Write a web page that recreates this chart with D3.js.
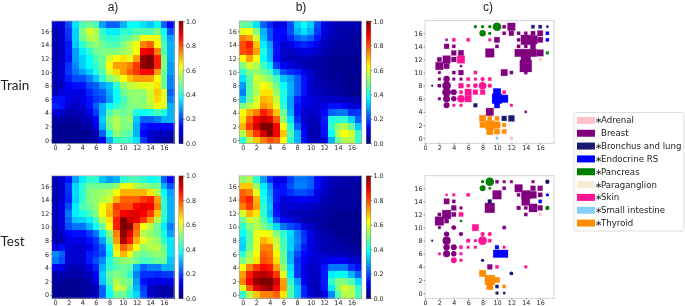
<!doctype html>
<html>
  <head>
    <meta charset="utf-8">
    <title>Heatmaps and markers</title>
    <script src="https://cdnjs.cloudflare.com/ajax/libs/d3/7.8.5/d3.min.js"></script>
    <style>
      html, body { margin: 0; padding: 0; background: #fff; overflow: hidden; }
      svg { display: block; filter: blur(0.45px); }
      .tick text { font-family: "DejaVu Sans"; font-size: 6.4px; fill: #262626; }
      .tick line { stroke: #444; stroke-width: 0.6; }
      .domain { display: none; }
      .panel-label { font-family: Lato; font-size: 13.5px; fill: #222; }
      .panel-title { font-family: "Liberation Sans"; font-size: 12px; fill: #222; }
    </style>
  </head>
  <body>
    <div id="chart"></div>

    <script>
      // rows run from y = 17 at the top down to y = 0
      const trainA = [
        [.08,.08,.2,.35,.45,.48,.45,.28,.22,.22,.3,.38,.38,.35,.32,.38,.22,.12],
        [.05,.08,.18,.33,.5,.58,.55,.42,.36,.36,.42,.42,.45,.45,.45,.5,.38,.2],
        [.05,.08,.17,.33,.48,.55,.55,.45,.42,.42,.45,.48,.52,.62,.62,.6,.42,.28],
        [.05,.08,.15,.32,.42,.48,.52,.48,.45,.45,.5,.55,.62,.75,.78,.63,.45,.3],
        [.05,.07,.15,.28,.36,.42,.48,.5,.5,.5,.52,.55,.62,.88,.9,.75,.45,.3],
        [.05,.07,.14,.28,.33,.38,.45,.48,.58,.62,.65,.6,.72,.98,1,.85,.5,.3],
        [.06,.08,.17,.26,.33,.38,.42,.48,.63,.72,.72,.75,.82,.98,1,.85,.5,.28],
        [.05,.09,.18,.24,.28,.33,.4,.46,.58,.66,.72,.78,.82,.87,.88,.72,.48,.28],
        [.05,.08,.15,.2,.2,.25,.32,.42,.5,.55,.62,.68,.72,.72,.72,.62,.48,.25],
        [.04,.06,.12,.14,.14,.2,.22,.28,.32,.42,.52,.56,.58,.6,.6,.65,.48,.25],
        [.06,.1,.1,.1,.1,.16,.2,.22,.3,.38,.48,.52,.52,.52,.58,.68,.6,.22],
        [.14,.14,.1,.08,.1,.14,.18,.2,.28,.38,.44,.5,.52,.5,.58,.66,.6,.25],
        [.16,.14,.08,.06,.09,.14,.22,.3,.38,.42,.46,.5,.5,.52,.55,.62,.6,.3],
        [.08,.08,.05,.05,.06,.1,.18,.3,.45,.5,.48,.5,.4,.38,.4,.44,.4,.3],
        [.04,.04,.03,.03,.05,.06,.13,.33,.5,.55,.5,.52,.32,.22,.22,.25,.3,.3],
        [.02,.02,.02,.02,.03,.04,.1,.3,.48,.55,.5,.5,.3,.15,.13,.13,.12,.12],
        [.02,.02,.02,.02,.02,.03,.05,.22,.4,.52,.48,.45,.3,.13,.08,.07,.06,.05],
        [.02,.02,.02,.02,.02,.03,.04,.12,.3,.42,.44,.42,.35,.18,.08,.05,.04,.03]
      ];
      const testA = [
        [.06,.08,.14,.28,.36,.42,.42,.32,.28,.3,.42,.45,.45,.42,.38,.4,.22,.12],
        [.05,.08,.18,.33,.42,.48,.48,.48,.48,.52,.6,.62,.55,.52,.5,.48,.3,.2],
        [.05,.08,.17,.34,.42,.5,.52,.52,.55,.62,.7,.7,.7,.7,.65,.55,.38,.28],
        [.05,.08,.16,.33,.42,.5,.52,.55,.58,.7,.78,.78,.78,.82,.85,.72,.42,.3],
        [.06,.1,.2,.36,.45,.48,.52,.62,.68,.82,.8,.8,.87,.9,.88,.75,.42,.3],
        [.06,.1,.24,.36,.4,.44,.5,.62,.7,.8,.88,.9,.9,.88,.82,.68,.42,.3],
        [.06,.1,.22,.32,.33,.36,.44,.56,.65,.85,1,.92,.9,.82,.72,.55,.42,.3],
        [.05,.09,.2,.24,.24,.3,.38,.48,.62,.85,1,.98,.78,.62,.55,.48,.36,.25],
        [.04,.07,.13,.14,.14,.18,.24,.36,.5,.75,.98,.9,.75,.55,.52,.48,.4,.28],
        [.05,.05,.1,.1,.1,.14,.18,.28,.45,.72,.95,.85,.7,.6,.55,.52,.42,.35],
        [.1,.14,.08,.08,.08,.1,.16,.22,.38,.65,.78,.72,.62,.52,.55,.55,.48,.35],
        [.26,.22,.08,.08,.08,.15,.17,.2,.36,.6,.7,.62,.5,.48,.5,.52,.5,.35],
        [.24,.2,.08,.07,.08,.15,.2,.26,.4,.48,.52,.52,.48,.44,.45,.48,.48,.32],
        [.12,.1,.06,.05,.06,.1,.16,.3,.42,.46,.48,.46,.3,.22,.25,.25,.3,.3],
        [.04,.05,.04,.04,.05,.06,.12,.33,.47,.5,.48,.42,.25,.17,.17,.16,.18,.18],
        [.03,.03,.02,.02,.03,.05,.1,.32,.45,.55,.5,.48,.28,.14,.1,.1,.1,.1],
        [.02,.02,.02,.02,.03,.04,.05,.22,.4,.58,.55,.45,.3,.18,.07,.05,.04,.04],
        [.02,.02,.02,.02,.03,.04,.06,.22,.38,.48,.48,.42,.34,.2,.08,.05,.05,.04]
      ];
      const trainB = [
        [.48,.46,.35,.22,.16,.1,.1,.2,.33,.38,.33,.2,.1,.07,.05,.05,.05,.05],
        [.6,.62,.5,.3,.2,.13,.13,.2,.3,.35,.3,.18,.1,.06,.05,.04,.04,.04],
        [.75,.72,.58,.32,.2,.13,.12,.16,.22,.25,.22,.15,.08,.05,.04,.04,.03,.03],
        [.8,.85,.68,.36,.28,.14,.08,.1,.14,.16,.14,.1,.06,.05,.03,.03,.03,.03],
        [.8,.82,.72,.4,.3,.14,.07,.07,.08,.1,.09,.07,.05,.03,.03,.03,.03,.03],
        [.63,.72,.62,.38,.3,.13,.07,.06,.06,.06,.05,.04,.03,.03,.02,.02,.02,.02],
        [.5,.58,.55,.44,.36,.18,.12,.09,.07,.05,.04,.03,.03,.02,.02,.02,.02,.02],
        [.42,.5,.52,.48,.44,.32,.2,.17,.15,.1,.07,.05,.03,.02,.02,.02,.02,.02],
        [.35,.46,.58,.55,.5,.44,.32,.28,.22,.14,.08,.05,.03,.03,.03,.02,.02,.02],
        [.28,.46,.56,.62,.58,.48,.38,.3,.22,.14,.08,.06,.04,.03,.03,.02,.02,.02],
        [.25,.46,.55,.65,.65,.52,.4,.3,.22,.14,.08,.06,.05,.04,.04,.03,.02,.02],
        [.32,.48,.58,.7,.68,.56,.4,.28,.16,.11,.09,.08,.07,.07,.07,.06,.05,.05],
        [.5,.55,.6,.73,.7,.6,.42,.28,.14,.1,.09,.08,.1,.14,.14,.12,.08,.09],
        [.62,.7,.75,.85,.8,.68,.48,.3,.14,.08,.07,.08,.13,.22,.24,.24,.17,.18],
        [.65,.78,.88,.92,.9,.78,.52,.35,.17,.08,.06,.06,.15,.4,.42,.42,.33,.22],
        [.7,.82,.92,1,1,.88,.62,.42,.22,.1,.05,.05,.14,.42,.52,.55,.47,.32],
        [.55,.72,.82,.92,1,.88,.68,.45,.3,.13,.05,.05,.14,.38,.55,.62,.58,.42],
        [.42,.55,.68,.75,.8,.78,.62,.42,.3,.14,.06,.05,.1,.3,.48,.55,.55,.42]
      ];
      const testB = [
        [.52,.55,.42,.28,.17,.1,.1,.18,.24,.24,.22,.13,.08,.06,.05,.04,.04,.04],
        [.68,.68,.52,.36,.26,.13,.14,.2,.25,.25,.22,.13,.08,.05,.04,.04,.03,.03],
        [.78,.75,.6,.38,.28,.15,.14,.17,.2,.2,.18,.1,.07,.05,.03,.03,.03,.03],
        [.8,.85,.7,.4,.3,.15,.09,.1,.11,.12,.1,.1,.05,.04,.03,.03,.03,.03],
        [.75,.82,.72,.42,.32,.13,.07,.08,.08,.07,.07,.06,.04,.03,.03,.03,.03,.03],
        [.58,.7,.65,.42,.3,.14,.07,.06,.06,.05,.05,.04,.03,.03,.02,.02,.02,.02],
        [.48,.58,.56,.46,.36,.2,.12,.1,.07,.05,.04,.03,.03,.02,.02,.02,.02,.02],
        [.42,.5,.55,.5,.44,.34,.24,.2,.17,.1,.07,.05,.03,.02,.02,.02,.02,.02],
        [.38,.46,.6,.62,.6,.5,.42,.34,.25,.17,.1,.06,.04,.03,.02,.02,.02,.02],
        [.34,.46,.6,.7,.66,.56,.44,.33,.26,.18,.1,.07,.05,.04,.03,.03,.02,.02],
        [.33,.48,.6,.75,.75,.58,.45,.33,.24,.15,.1,.07,.05,.04,.04,.03,.03,.02],
        [.42,.53,.62,.78,.76,.63,.47,.3,.2,.13,.1,.08,.07,.06,.06,.05,.05,.04],
        [.5,.55,.65,.8,.78,.66,.48,.3,.17,.12,.09,.08,.1,.12,.12,.11,.08,.08],
        [.62,.75,.82,.87,.85,.72,.52,.34,.18,.1,.07,.08,.14,.24,.24,.24,.17,.14],
        [.72,.85,.93,.95,.92,.82,.6,.36,.18,.1,.07,.07,.15,.36,.38,.38,.3,.22],
        [.75,.88,.98,1,1,.92,.72,.42,.28,.12,.06,.06,.15,.42,.5,.5,.45,.34],
        [.6,.78,.9,.95,.98,.88,.72,.46,.32,.16,.07,.06,.14,.36,.5,.58,.55,.42],
        [.42,.55,.68,.75,.75,.78,.65,.45,.32,.16,.08,.06,.1,.26,.45,.55,.55,.44]
      ];

      const gridTicks = [0, 2, 4, 6, 8, 10, 12, 14, 16];
      const barTicks = [0, 0.2, 0.4, 0.6, 0.8, 1];

      // legend
      const tissues = ['Adrenal', 'Breast', 'Bronchus and lung', 'Endocrine RS', 'Pancreas',
        'Paraganglion', 'Skin', 'Small intestine', 'Thyroid'];
      const tissueColors = ['#ffc0cb', '#800080', '#191970', '#0000ff', '#008000',
        '#faebd7', '#ff1493', '#87cefa', '#ff8c00'];
      const starred = [true, false, true, true, true, true, true, true, true];

      // markers: [x, y, size], one list per tissue and shape
      const trainSquares = {
        Adrenal: [[16,12,2.5],[12,0,2.5]],
        Breast: [[12,17,7],[11,17,3],[11,16,3],[12,16,4.5],[13,16,3],[14,16,3],[15,16,4],[16,16,5],
          [13,15,3],[14,15,9],[15,15,8],[16,15,5],[10,15,5],[13,14,3],[14,14,3],[15,14,5],[10,14,3],
          [13,13,7],[14,13,7],[15,13,7],[16,13,6],[9,13,8],[14,12,9],[14,11,11],[11,10,6],[12,10,3],[14,10,3],
          [3,15,2],[3,14,4.5],[4,14,3],[4,13,4.5],[5,13,5],[2,12,4],[3,12,7],[4,12,4.5],[2,11,7],[3,11,5],
          [5,11,2],[2,10,2.5],[4,10,3],[5,10,4.5],[2,9,2.5],[4,9,2.5],[5,9,2.5],[2,8,3],[2,6,2.5],[9,4,7],[14,4,2]],
        'Bronchus and lung': [[15,17,3],[16,17,3],[7,5,3.5],[11,3,4.5],[12,3,5.5]],
        'Endocrine RS': [[17,16,3],[17,15,3],[10,7,7],[10,6,9],[11,6,7],[10,5,5]],
        Pancreas: [[17,13,2.5]],
        Skin: [[9,15,2.5],[4,15,3],[6,15,3],[5,12,7],[7,10,3],[6,9,3],[7,9,2.5],[9,9,3],[5,8,4.5],[6,8,3],
          [5,7,3],[6,7,6],[7,7,4.5],[8,7,4.5],[11,7,3],[6,6,6],[4,5,2.5],[5,5,2.5],[12,5,2.5]],
        Thyroid: [[8,3,6],[9,3,4],[10,3,4],[8,2,5],[9,2,8],[10,2,6],[11,2,3.5],[9,1,6],[10,1,5],[11,1,4]]
      };
      const trainCircles = {
        Breast: [[3,9,6],[3,8,8],[3,7,8],[4,7,5.5],[3,6,6.5],[4,6,5],[3,5,5.5]],
        'Bronchus and lung': [[17,17,2.5],[1,8,2]],
        Pancreas: [[7,17,3],[8,17,3],[9,17,3],[10,17,8],[8,16,6],[9,16,3]],
        Skin: [[8,9,4],[7,8,4.5],[8,8,7],[9,8,4],[5,6,7]],
        'Small intestine': [[10,0,3]]
      };
      const testSquares = {
        Adrenal: [[16,12,2.5]],
        Breast: [[10,17,3],[11,17,2.5],[12,17,2.5],[15,17,2.5],[11,16,3],[13,16,7],[15,16,4.5],[16,16,4.5],
          [10,15,8],[13,15,3],[14,15,8],[15,15,6.5],[16,15,4],[3,14,5],[4,14,3],[14,14,7.5],[4,13,4.5],[5,13,2.5],
          [9,13,9],[13,13,3.5],[14,13,3],[15,13,7.5],[16,13,4.5],[2,12,3],[3,12,8],[4,12,4],[14,12,3],[2,11,8],
          [3,11,4],[2,10,2.5],[11,10,3],[9,4,4.5]],
        'Bronchus and lung': [[9,14,3.5],[10,1,3],[10,0,2.5],[11,0,2]],
        'Endocrine RS': [[16,14,3],[10,7,3.5],[10,6,7],[11,6,7]],
        Skin: [[3,15,2],[4,15,2.5],[6,15,3],[5,12,4],[7,10,6],[9,8,3],[7,8,2.5],[5,7,3],[6,7,2.5],[7,7,2.5],
          [11,7,2.5],[5,6,2.5],[5,5,2.5],[10,4,3],[14,4,2.5]],
        Thyroid: [[8,3,6],[9,2,9],[10,2,5],[9,1,6],[11,1,3]]
      };
      const testCircles = {
        Breast: [[4,10,4.5],[3,9,5],[5,9,4],[3,8,7.5],[3,7,6],[4,7,5.5],[3,6,6.5],[4,6,5]],
        'Bronchus and lung': [[17,17,4],[1,8,2],[8,5,3],[12,3,3.5]],
        'Endocrine RS': [[17,15,3]],
        Pancreas: [[8,17,3],[9,17,8],[8,16,5.5],[9,16,2.5],[17,13,4],[5,11,2.5]],
        Skin: [[8,9,4],[9,9,4],[6,8,4],[8,8,8],[2,6,3],[4,5,5.5]]
      };

      const width = 685, height = 306;
      const svg = d3.select('#chart').append('svg')
        .attr('width', width)
        .attr('height', height);

      const jet = d3.scaleLinear()
        .domain([0, 0.125, 0.375, 0.625, 0.875, 1])
        .range(['#00007f', '#0000ff', '#00ffff', '#ffff00', '#ff0000', '#7f0000']);

      const grey = '#a9a9a9';

      function heatPanel(data, left, top) {
        const size = 122.4;
        const g = svg.append('g').attr('transform', `translate(${left},${top})`);
        const x = d3.scaleLinear().domain([-0.5, 17.5]).range([0, size]);
        const y = d3.scaleLinear().domain([-0.5, 17.5]).range([size, 0]);

        data.forEach((row, r) => {
          g.append('g').attr('shape-rendering', 'crispEdges').selectAll('rect')
            .data(row)
            .join('rect')
            .attr('x', (d, i) => x(i - 0.5))
            .attr('y', y(17 - r + 0.5))
            .attr('width', x(1) - x(0) + 0.5)
            .attr('height', x(1) - x(0) + 0.5)
            .attr('fill', d => jet(d));
        });
        g.append('rect').attr('width', size).attr('height', size)
          .attr('fill', 'none').attr('stroke', grey).attr('stroke-width', 0.8);

        g.append('g').attr('transform', `translate(0,${size})`)
          .call(d3.axisBottom(x).tickValues(gridTicks).tickSize(1.5).tickPadding(1));
        g.append('g')
          .call(d3.axisLeft(y).tickValues(gridTicks).tickSize(1.5).tickPadding(1));

        // colorbar
        const bar = g.append('g').attr('transform', `translate(${size + 4.7},0)`);
        const c = d3.scaleLinear().domain([0, 1]).range([size, 0]);
        bar.append('g').attr('shape-rendering', 'crispEdges').selectAll('rect')
          .data(d3.range(0, 1, 1 / 120))
          .join('rect')
          .attr('y', d => c(d + 1 / 120))
          .attr('width', 4.4)
          .attr('height', size / 120 + 0.3)
          .attr('fill', d => jet(d));
        bar.append('rect').attr('width', 4.4).attr('height', size)
          .attr('fill', 'none').attr('stroke', '#777').attr('stroke-width', 0.5);
        bar.append('g').attr('transform', 'translate(4.4,0)')
          .call(d3.axisRight(c).tickValues(barTicks).tickFormat(d3.format('.1f')).tickSize(1.5).tickPadding(1.2));
      }

      function markerPanel(squares, circles, left, top) {
        const w = 129, h = 122.6;
        const g = svg.append('g').attr('transform', `translate(${left},${top})`);
        const x = d3.scaleLinear().domain([0, 17.92]).range([0, w]);
        const y = d3.scaleLinear().domain([-0.8, 17.92]).range([h, 0]);
        const side = d3.scaleLinear().domain([0, 12]).range([0, 13]);
        const color = d3.scaleOrdinal().domain(tissues).range(tissueColors);

        g.append('rect').attr('width', w).attr('height', h)
          .attr('fill', '#fff').attr('stroke', '#d0d0d0').attr('stroke-width', 0.9);

        Object.keys(squares).forEach(t => {
          g.append('g').selectAll('rect')
            .data(squares[t])
            .join('rect')
            .attr('x', d => x(d[0]) - side(d[2]) / 2)
            .attr('y', d => y(d[1]) - side(d[2]) / 2)
            .attr('width', d => side(d[2]))
            .attr('height', d => side(d[2]))
            .attr('fill', color(t))
            .attr('stroke', color(t))
            .attr('stroke-opacity', 0.3)
            .attr('stroke-width', 0.8);
        });
        Object.keys(circles).forEach(t => {
          g.append('g').selectAll('circle')
            .data(circles[t])
            .join('circle')
            .attr('cx', d => x(d[0]))
            .attr('cy', d => y(d[1]))
            .attr('r', d => side(d[2]) / 2)
            .attr('fill', color(t));
        });

        g.append('g').attr('transform', `translate(0,${h})`)
          .call(d3.axisBottom(x).tickValues(gridTicks).tickSize(1.5).tickPadding(1));
        g.append('g')
          .call(d3.axisLeft(y).tickValues(gridTicks).tickSize(1.5).tickPadding(1));
      }

      heatPanel(trainA, 51.7, 21);
      heatPanel(testA, 51.7, 175.8);
      heatPanel(trainB, 239.3, 21);
      heatPanel(testB, 239.3, 175.8);
      markerPanel(trainSquares, trainCircles, 425, 20.7);
      markerPanel(testSquares, testCircles, 425, 175.7);

      svg.append('text').attr('class', 'panel-title').attr('x', 113).attr('y', 11.2).attr('text-anchor', 'middle').text('a)');
      svg.append('text').attr('class', 'panel-title').attr('x', 301).attr('y', 11.2).attr('text-anchor', 'middle').text('b)');
      svg.append('text').attr('class', 'panel-title').attr('x', 488).attr('y', 11.2).attr('text-anchor', 'middle').text('c)');
      svg.append('text').attr('class', 'panel-label').attr('x', 0.5).attr('y', 89.5).text('Train');
      svg.append('text').attr('class', 'panel-label').attr('x', 0.5).attr('y', 245.7).text('Test');

      // legend box
      const legend = svg.append('g').attr('transform', 'translate(574,112.5)');
      legend.append('rect').attr('width', 110).attr('height', 118.5).attr('rx', 1.5)
        .attr('fill', '#fff').attr('stroke', '#d5d5d5').attr('stroke-width', 0.8);
      const rowY = d3.scaleBand().domain(tissues).range([1.5, 117]);
      const rows = legend.selectAll('g.row')
        .data(tissues)
        .join('g')
        .attr('class', 'row')
        .attr('transform', d => `translate(0,${rowY(d) + rowY.bandwidth() / 2})`);
      rows.append('rect')
        .attr('x', 3).attr('y', -3.5)
        .attr('width', 18).attr('height', 7)
        .attr('fill', (d, i) => tissueColors[i]);
      rows.filter((d, i) => starred[i]).append('text')
        .attr('x', 21).attr('y', 3)
        .attr('font-family', 'DejaVu Sans').attr('font-size', 8.6).attr('fill', '#222')
        .text('∗');
      rows.append('text')
        .attr('x', 27).attr('y', 3)
        .attr('font-family', 'DejaVu Sans').attr('font-size', 8.6).attr('fill', '#222')
        .text(d => d);
    </script>
  </body>
</html>
